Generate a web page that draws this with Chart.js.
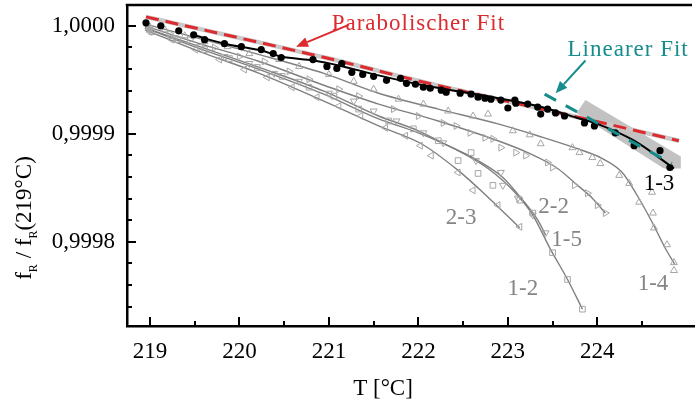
<!DOCTYPE html>
<html>
<head>
<meta charset="utf-8">
<script src="https://cdn.jsdelivr.net/npm/chart.js@4.4.0/dist/chart.umd.min.js"></script>
<style>
  html, body { margin: 0; padding: 0; background: #fff; }
  #wrap { width: 699px; height: 404px; }
</style>
</head>
<body>
<div id="wrap"><canvas id="chart" width="699" height="404"></canvas></div>
<script>
// ---------- data (T in °C, f = fR / fR(219°C)) ----------
const dots13T = [218.956, 219.122, 219.322, 219.489, 219.611, 219.833, 220.022, 220.244, 220.378, 220.467,
  220.822, 220.978, 221.089, 221.144, 221.256, 221.378, 221.5, 221.644, 221.8, 221.867,
  221.967, 222.056, 222.133, 222.256, 222.311, 222.467, 222.589, 222.667, 222.744, 222.811,
  222.922, 223.0, 223.078, 223.089, 223.222, 223.333, 223.367, 223.444, 223.533, 223.633,
  223.856, 223.967, 224.2, 224.411, 224.7, 224.811];
const dots13F = [1.0000028, 1.0000000, 0.9999954, 0.9999917, 0.9999872, 0.9999835, 0.9999807, 0.9999780, 0.9999743, 0.9999706,
  0.9999688, 0.9999624, 0.9999606, 0.9999651, 0.9999569, 0.9999550, 0.9999532, 0.9999495, 0.9999514, 0.9999468,
  0.9999459, 0.9999431, 0.9999422, 0.9999404, 0.9999385, 0.9999376, 0.9999367, 0.9999339, 0.9999330, 0.9999321,
  0.9999312, 0.9999239, 0.9999312, 0.9999284, 0.9999275, 0.9999248, 0.9999183, 0.9999229, 0.9999193, 0.9999165,
  0.9999101, 0.9999073, 0.9999009, 0.9998890, 0.9998844, 0.9998688];

const curve13T = [219.478, 219.833, 220.244, 220.467, 220.833, 221.111, 221.556, 222.0, 222.444, 222.889, 223.333, 223.778, 224.0, 224.411, 224.811, 224.856];
const curve13F = [0.9999917, 0.9999835, 0.9999771, 0.9999716, 0.9999679, 0.9999633, 0.9999541, 0.9999459, 0.9999394, 0.9999330, 0.9999257, 0.9999147, 0.9999092, 0.9998936, 0.9998706, 0.9998679];

const paraT = [218.956, 221.0, 222.111, 222.889, 223.967, 224.911];
const paraF = [1.0000083, 0.9999697, 0.9999468, 0.9999321, 0.9999119, 0.9998936];

const linT = [223.411, 224.833];
const linF = [0.9999367, 0.9998725];

const bandT = [223.767, 223.867, 224.933, 224.933, 224.744, 223.767];
const bandF = [0.9999193, 0.9999312, 0.9998789, 0.9998679, 0.9998679, 0.9999193];

const curve14T = [218.944, 219.556, 220.222, 220.944, 221.556, 222.222, 222.889, 223.333, 223.778, 224.056, 224.278, 224.444, 224.611, 224.756, 224.867];
const curve14F = [1.0000018, 0.9999881, 0.9999734, 0.9999560, 0.9999376, 0.9999229, 0.9999092, 0.9998982, 0.9998862, 0.9998771, 0.9998642, 0.9998431, 0.9998183, 0.9997945, 0.9997789];
const mark14T = [219.0, 219.167, 219.389, 219.611, 219.867, 220.111, 220.444, 220.667, 221.0, 221.278, 221.5, 221.778, 222.056, 222.333, 222.611, 222.778,
  223.056, 223.244, 223.367, 223.722, 223.8, 223.944, 224.033, 224.244, 224.356, 224.467, 224.611, 224.622, 224.633, 224.778, 224.856, 224.856];
const mark14F = [0.9999991, 0.9999963, 0.9999908, 0.9999853, 0.9999807, 0.9999743, 0.9999688, 0.9999624, 0.9999550, 0.9999486, 0.9999413, 0.9999321, 0.9999275, 0.9999211, 0.9999165, 0.9999183,
  0.9999028, 0.9998991, 0.9998908, 0.9998872, 0.9998826, 0.9998780, 0.9998725, 0.9998615, 0.9998541, 0.9998367, 0.9998459, 0.9998266, 0.9998128, 0.9997973, 0.9997807, 0.9997734];

const curve22T = [218.944, 219.556, 220.222, 220.944, 221.556, 222.222, 222.889, 223.222, 223.556, 223.778, 223.944, 224.089];
const curve22F = [1.0000000, 0.9999835, 0.9999670, 0.9999450, 0.9999275, 0.9999119, 0.9998936, 0.9998826, 0.9998679, 0.9998523, 0.9998404, 0.9998266];
const mark22T = [219.0, 219.222, 219.444, 219.722, 220.0, 220.278, 220.556, 220.778, 221.111, 221.333, 221.722, 222.0, 222.278, 222.422, 222.578, 222.744,
  222.833, 222.922, 223.089, 223.2, 223.444, 223.5, 223.744, 223.889, 224.0, 224.089];
const mark22F = [0.9999972, 0.9999927, 0.9999872, 0.9999798, 0.9999716, 0.9999670, 0.9999578, 0.9999505, 0.9999413, 0.9999349, 0.9999229, 0.9999165, 0.9999101, 0.9999073, 0.9999009, 0.9998963,
  0.9998954, 0.9998872, 0.9998826, 0.9998798, 0.9998734, 0.9998688, 0.9998523, 0.9998450, 0.9998339, 0.9998266];

const curve15T = [218.944, 219.556, 220.222, 220.944, 221.556, 222.0, 222.333, 222.667, 222.944, 223.167, 223.333, 223.422];
const curve15F = [0.9999982, 0.9999807, 0.9999615, 0.9999395, 0.9999165, 0.9999028, 0.9998890, 0.9998752, 0.9998596, 0.9998385, 0.9998202, 0.9998064];
const mark15T = [219.0, 219.278, 219.556, 219.833, 220.111, 220.389, 220.667, 221.0, 221.278, 221.5, 221.756, 222.056, 222.278, 222.644, 222.922, 222.944, 223.111, 223.278, 223.422];
const mark15F = [0.9999963, 0.9999890, 0.9999807, 0.9999716, 0.9999651, 0.9999560, 0.9999486, 0.9999376, 0.9999303, 0.9999211, 0.9999119, 0.9999009, 0.9998917, 0.9998752, 0.9998642, 0.9998523, 0.9998404, 0.9998248, 0.9998083];

const curve12T = [218.944, 219.556, 220.222, 220.944, 221.556, 222.0, 222.444, 222.778, 223.056, 223.278, 223.478, 223.667, 223.833];
const curve12F = [0.9999982, 0.9999789, 0.9999596, 0.9999367, 0.9999138, 0.9999009, 0.9998844, 0.9998679, 0.9998477, 0.9998248, 0.9997927, 0.9997651, 0.9997376];
const mark12T = [219.022, 219.311, 219.611, 219.889, 220.2, 220.478, 220.778, 221.056, 221.333, 221.667, 221.944, 222.222, 222.444, 222.589, 222.667, 222.833, 223.133, 223.278, 223.5, 223.667, 223.833];
const mark12F = [0.9999945, 0.9999872, 0.9999780, 0.9999697, 0.9999615, 0.9999532, 0.9999431, 0.9999349, 0.9999229, 0.9999119, 0.9999046, 0.9998936, 0.9998752, 0.9998826, 0.9998633, 0.9998523, 0.9998385, 0.9998266, 0.9997899, 0.9997651, 0.9997376];

const curve23T = [218.944, 219.556, 220.222, 220.944, 221.556, 222.033, 222.444, 222.778, 223.133];
const curve23F = [0.9999963, 0.9999761, 0.9999560, 0.9999303, 0.9999073, 0.9998908, 0.9998661, 0.9998413, 0.9998128];
const mark23T = [219.0, 219.244, 219.511, 219.778, 220.056, 220.311, 220.589, 220.867, 221.111, 221.356, 221.633, 221.856, 222.022, 222.144, 222.444, 222.611, 222.889, 223.133];
const mark23F = [0.9999945, 0.9999872, 0.9999780, 0.9999688, 0.9999596, 0.9999523, 0.9999431, 0.9999339, 0.9999257, 0.9999165, 0.9999055, 0.9998982, 0.9998890, 0.9998798, 0.9998642, 0.9998477, 0.9998339, 0.9998138];

// series labels and annotations (anchored in data units)
const seriesLabels = ["1-3", "2-3", "2-2", "1-5", "1-2", "1-4"];
const seriesLabelT = [224.689, 222.478, 223.511, 223.656, 223.167, 224.622];
const seriesLabelF = [0.9998532, 0.9998220, 0.9998321, 0.9998018, 0.9997560, 0.9997606];
const seriesLabelColor = ["#000", "#858585", "#858585", "#858585", "#858585", "#858585"];

const noteText = ["Parabolischer Fit", "Linearer Fit"];
const noteT = [222.0, 224.344];
const noteF = [1.0000018, 0.9999780];
const arrowFromT = [221.222, 223.867];
const arrowFromF = [1.0000009, 0.9999679];
const arrowToT = [220.633, 223.533];
const arrowToF = [0.9999807, 0.9999376];

const RED = "#dc2a2e";
const TEAL = "#168c8c";
const GRAY = "#7f7f7f";
const MARK = "#a6a6a6";
const SERIF = "'Liberation Serif', 'DejaVu Serif', serif";
const noteColor = [RED, TEAL];
const X_LAST = 224.6;   // last labelled tick region; the 225 tick is not shown

function pts(xs, ys) { return xs.map((x, i) => ({ x: x, y: ys[i] })); }

function curveSet(xs, ys) {
  return { data: pts(xs, ys), borderColor: GRAY, borderWidth: 1.4, pointRadius: 0,
    cubicInterpolationMode: "monotone", fill: false, order: 8 };
}
function markSet(xs, ys, style, rot) {
  return { data: pts(xs, ys), showLine: false, pointStyle: style, pointRotation: rot,
    pointRadius: 4, borderColor: MARK, pointBorderColor: MARK, pointBorderWidth: 1,
    pointBackgroundColor: "rgba(0,0,0,0)", order: 7 };
}

const datasets = [
  { data: pts(bandT, bandF), borderWidth: 0, pointRadius: 0, fill: "shape",
    backgroundColor: "#c2c2c2", tension: 0, order: 10 },
  curveSet(curve14T, curve14F), curveSet(curve22T, curve22F), curveSet(curve15T, curve15F),
  curveSet(curve12T, curve12F), curveSet(curve23T, curve23F),
  markSet(mark14T, mark14F, "triangle", 0), markSet(mark22T, mark22F, "triangle", 90),
  markSet(mark15T, mark15F, "triangle", 180), markSet(mark12T, mark12F, "rect", 0),
  markSet(mark23T, mark23F, "triangle", 270),
  { data: pts(paraT, paraF), borderColor: "#c9c9c9", borderWidth: 4.5, pointRadius: 0,
    cubicInterpolationMode: "monotone", order: 6 },
  { data: pts(paraT, paraF), borderColor: RED, borderWidth: 3, borderDash: [13, 7], pointRadius: 0,
    cubicInterpolationMode: "monotone", order: 5 },
  { data: pts(curve13T, curve13F), borderColor: "#000", borderWidth: 2, pointRadius: 0,
    cubicInterpolationMode: "monotone", order: 4 },
  { data: pts(dots13T, dots13F), showLine: false, pointStyle: "circle", pointRadius: 3.6,
    pointBackgroundColor: "#000", pointBorderColor: "#000", pointBorderWidth: 0, order: 3 },
  { data: pts(linT, linF), borderColor: TEAL, borderWidth: 3, borderDash: [13, 11], pointRadius: 0, order: 2 }
];

function isWhole(v, step) { return Math.abs(v / step - Math.round(v / step)) < 1e-6; }

function arrow(ctx, x1, y1, x2, y2, color) {
  const ang = Math.atan2(y2 - y1, x2 - x1);
  const hl = 12, hw = 5;
  const bx = x2 - hl * Math.cos(ang), by = y2 - hl * Math.sin(ang);
  ctx.strokeStyle = color; ctx.fillStyle = color; ctx.lineWidth = 2;
  ctx.beginPath(); ctx.moveTo(x1, y1); ctx.lineTo(bx, by); ctx.stroke();
  ctx.beginPath();
  ctx.moveTo(x2, y2);
  ctx.lineTo(bx + hw * Math.sin(ang), by - hw * Math.cos(ang));
  ctx.lineTo(bx - hw * Math.sin(ang), by + hw * Math.cos(ang));
  ctx.closePath(); ctx.fill();
}

const decorations = {
  id: "decorations",
  afterDatasetsDraw(chart) {
    const { ctx, chartArea: a, scales: { x, y } } = chart;
    ctx.save();
    // top frame line
    ctx.strokeStyle = "#000"; ctx.lineWidth = 2.5;
    ctx.beginPath(); ctx.moveTo(a.left - 1.25, a.top); ctx.lineTo(a.right - 2, a.top); ctx.stroke();

    // inward ticks
    ctx.lineWidth = 2;
    x.ticks.forEach(t => {
      if (t.value > X_LAST) return;
      const px = Math.round(x.getPixelForValue(t.value));
      const len = isWhole(t.value, 1) ? 9 : 5;
      ctx.beginPath(); ctx.moveTo(px, a.bottom); ctx.lineTo(px, a.bottom - len); ctx.stroke();
    });
    y.ticks.forEach(t => {
      const py = Math.round(y.getPixelForValue(t.value));
      const len = isWhole(t.value, 0.0001) ? 9 : 5;
      ctx.beginPath(); ctx.moveTo(a.left, py); ctx.lineTo(a.left + len, py); ctx.stroke();
    });

    // series labels
    ctx.font = "23px " + SERIF;
    ctx.textAlign = "center"; ctx.textBaseline = "middle";
    seriesLabels.forEach((s, i) => {
      ctx.fillStyle = seriesLabelColor[i];
      ctx.fillText(s, x.getPixelForValue(seriesLabelT[i]), y.getPixelForValue(seriesLabelF[i]));
    });

    // fit annotations with arrows
    noteText.forEach((s, i) => {
      ctx.fillStyle = noteColor[i];
      ctx.letterSpacing = "1px";
      ctx.fillText(s, x.getPixelForValue(noteT[i]), y.getPixelForValue(noteF[i]));
      ctx.letterSpacing = "0px";
      arrow(ctx, x.getPixelForValue(arrowFromT[i]), y.getPixelForValue(arrowFromF[i]),
        x.getPixelForValue(arrowToT[i]), y.getPixelForValue(arrowToF[i]), noteColor[i]);
    });

    // axis titles
    ctx.fillStyle = "#000";
    ctx.font = "23px " + SERIF;
    ctx.textAlign = "center"; ctx.textBaseline = "middle";
    ctx.fillText("T [°C]", 383, 389);

    const parts = [["f", 23, 0], ["R", 12, 6], [" / f", 23, 0], ["R", 12, 6], ["(219°C)", 23, 0]];
    let total = 0;
    parts.forEach(p => { ctx.font = p[1] + "px " + SERIF; total += ctx.measureText(p[0]).width; });
    ctx.translate(31, 218);
    ctx.rotate(-Math.PI / 2);
    ctx.textAlign = "left"; ctx.textBaseline = "alphabetic";
    let cx = -total / 2;
    parts.forEach(p => {
      ctx.font = p[1] + "px " + SERIF;
      ctx.fillText(p[0], cx, p[2]);
      cx += ctx.measureText(p[0]).width;
    });
    ctx.restore();
  }
};

new Chart(document.getElementById("chart"), {
  type: "line",
  data: { datasets: datasets },
  options: {
    responsive: false,
    animation: false,
    devicePixelRatio: 1,
    layout: { padding: { top: 3, right: 2, left: 0, bottom: 0 } },
    plugins: { legend: { display: false }, tooltip: { enabled: false } },
    scales: {
      x: {
        type: "linear",
        min: 218.744, max: 225.08,
        grid: { display: false, drawTicks: false },
        border: { display: true, color: "#000", width: 2.5 },
        ticks: {
          stepSize: 0.5, includeBounds: false, autoSkip: false, maxRotation: 0,
          padding: 12, color: "#000", font: { family: SERIF, size: 23 },
          callback: v => (isWhole(v, 1) && v < X_LAST) ? String(Math.round(v)) : ""
        },
        afterFit: s => { s.height = 78; s.paddingLeft = 0; s.paddingRight = 0; }
      },
      y: {
        type: "linear",
        min: 0.999722, max: 1.0000193,
        grid: { display: false, drawTicks: false },
        border: { display: true, color: "#000", width: 2.5 },
        ticks: {
          stepSize: 0.00002, includeBounds: false, autoSkip: false,
          padding: 12, color: "#000", font: { family: SERIF, size: 23 },
          callback: v => isWhole(v, 0.0001) ? (Math.round(v * 1e4) / 1e4).toFixed(4).replace(".", ",") : ""
        },
        afterFit: s => { s.width = 127; s.paddingTop = 0; s.paddingBottom = 0; }
      }
    }
  },
  plugins: [decorations]
});
</script>
</body>
</html>
